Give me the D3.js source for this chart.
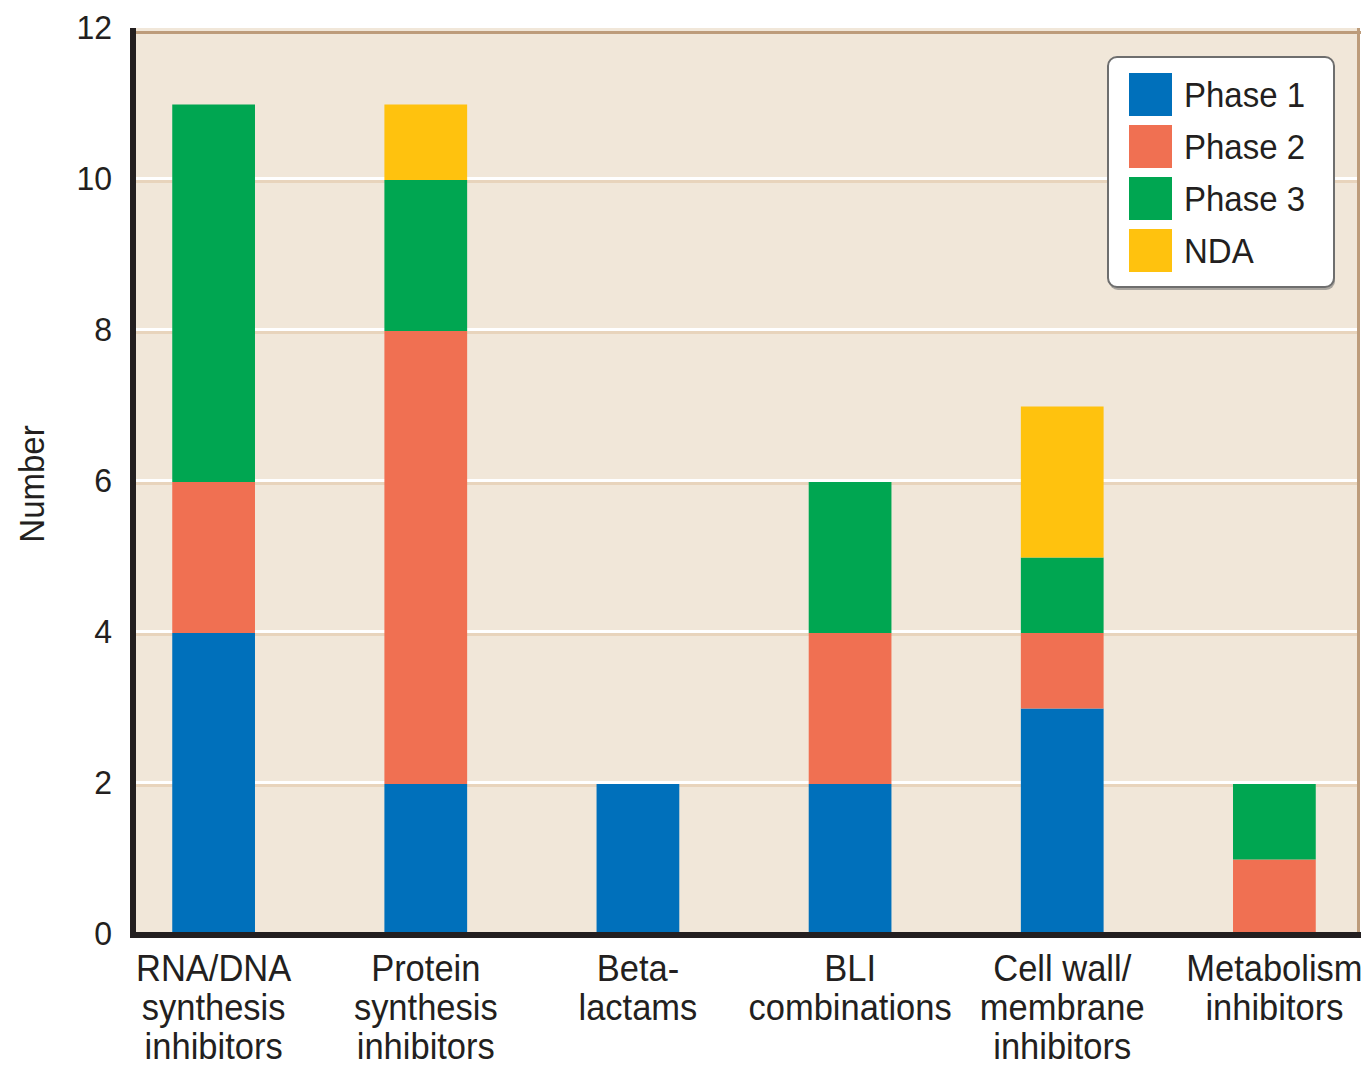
<!DOCTYPE html>
<html>
<head>
<meta charset="utf-8">
<script src="https://cdn.jsdelivr.net/npm/d3@7"></script>
<style>
  html, body { margin: 0; padding: 0; background: #ffffff; }
  svg { display: block; }
  text { font-family: "Liberation Sans", Arial, Helvetica, sans-serif; fill: #231f20; }
</style>
</head>
<body>
<svg id="chart" width="1364" height="1067"></svg>
<script>
// Antibacterial agents in development, by class and clinical phase
const categories = ["RNA/DNA synthesis inhibitors", "Protein synthesis inhibitors", "Beta-lactams",
                    "BLI combinations", "Cell wall/ membrane inhibitors", "Metabolism inhibitors"];
const categoryLines = [
  ["RNA/DNA", "synthesis", "inhibitors"],
  ["Protein", "synthesis", "inhibitors"],
  ["Beta-", "lactams"],
  ["BLI", "combinations"],
  ["Cell wall/", "membrane", "inhibitors"],
  ["Metabolism", "inhibitors"]
];
const seriesNames = ["Phase 1", "Phase 2", "Phase 3", "NDA"];
const phase1 = [4, 2, 2, 2, 3, 0];
const phase2 = [2, 6, 0, 2, 1, 1];
const phase3 = [5, 2, 0, 2, 1, 1];
const nda    = [0, 1, 0, 0, 2, 0];
const yTicks = [0, 2, 4, 6, 8, 10, 12];
const yLabel = "Number";

const colors = ["#0070bb", "#f07052", "#00a651", "#ffc20e"];

const rows = categories.map((c, i) => ({
  category: c,
  "Phase 1": phase1[i], "Phase 2": phase2[i], "Phase 3": phase3[i], "NDA": nda[i]
}));

const svg = d3.select("#chart");
const plot = { left: 136, right: 1358, top: 28, bottom: 935 };

const x = d3.scaleBand().domain(categories).range([133, 1355])
  .paddingInner(0.61).paddingOuter(0.185);
const y = d3.scaleLinear().domain([0, 12]).range([935, 29]);
const color = d3.scaleOrdinal().domain(seriesNames).range(colors);

const TEXT_STRETCH = 1.05;
function label(g, px, py, str, size, anchor, rotate) {
  return g.append("text")
    .attr("transform", `translate(${px},${py})${rotate ? ` rotate(${rotate})` : ""} scale(1,${TEXT_STRETCH})`)
    .attr("text-anchor", anchor)
    .style("font-size", size + "px")
    .text(str);
}

// plot background
svg.append("rect")
  .attr("x", plot.left).attr("y", plot.top)
  .attr("width", plot.right - plot.left).attr("height", plot.bottom - plot.top)
  .attr("fill", "#f1e7d9");

// gridlines: white highlight above a tan rule
const grid = svg.append("g");
yTicks.filter(t => t > 0 && t < 12).forEach(t => {
  grid.append("rect").attr("x", plot.left).attr("width", plot.right - plot.left)
    .attr("y", y(t) - 3).attr("height", 3).attr("fill", "#ffffff");
  grid.append("rect").attr("x", plot.left).attr("width", plot.right - plot.left)
    .attr("y", y(t)).attr("height", 3).attr("fill", "#e8d4bc");
});
// top and right frame
svg.append("rect").attr("x", plot.left).attr("width", plot.right - plot.left + 3)
  .attr("y", y(12) + 2).attr("height", 3).attr("fill", "#bd9c7b");
svg.append("rect").attr("x", plot.right - 1).attr("width", 3)
  .attr("y", plot.top).attr("height", plot.bottom - plot.top).attr("fill", "#bd9c7b");

// stacked bars
const stacked = d3.stack().keys(seriesNames)(rows);
svg.append("g").selectAll("g").data(stacked).join("g")
  .attr("fill", d => color(d.key))
  .selectAll("rect").data(d => d).join("rect")
  .attr("x", d => x(d.data.category))
  .attr("width", x.bandwidth())
  .attr("y", d => y(d[1]))
  .attr("height", d => y(d[0]) - y(d[1]));

// axes lines
svg.append("rect").attr("x", 130).attr("y", plot.top).attr("width", 6)
  .attr("height", 938 - plot.top).attr("fill", "#231f20");
svg.append("rect").attr("x", 130).attr("y", 932).attr("width", plot.right + 3 - 130)
  .attr("height", 6).attr("fill", "#231f20");

// y tick labels
const yAxisG = svg.append("g");
yTicks.forEach(t => {
  label(yAxisG, 112, y(t) + 10, d3.format("d")(t), 32, "end");
});

// y axis title
label(svg.append("g"), 44, 484, yLabel, 33, "middle", -90);

// category labels
const xAxisG = svg.append("g");
categoryLines.forEach((lines, i) => {
  const cx = x(categories[i]) + x.bandwidth() / 2;
  lines.forEach((ln, j) => {
    label(xAxisG, cx, 981 + j * 39, ln, 34.5, "middle");
  });
});

// legend
const legend = svg.append("g");
const lg = { x: 1108, y: 57, w: 226, h: 230 };
legend.append("rect").attr("x", lg.x + 1).attr("y", lg.y + 3)
  .attr("width", lg.w).attr("height", lg.h).attr("rx", 9)
  .attr("fill", "#a8a49e");
legend.append("rect").attr("x", lg.x).attr("y", lg.y)
  .attr("width", lg.w).attr("height", lg.h).attr("rx", 9)
  .attr("fill", "#ffffff").attr("stroke", "#6e6e6e").attr("stroke-width", 2);
seriesNames.forEach((s, i) => {
  const sy = 73 + i * 52;
  legend.append("rect").attr("x", 1129).attr("y", sy)
    .attr("width", 43).attr("height", 43).attr("fill", color(s));
  label(legend, 1184, sy + 34, s, 33, "start");
});
</script>
</body>
</html>
